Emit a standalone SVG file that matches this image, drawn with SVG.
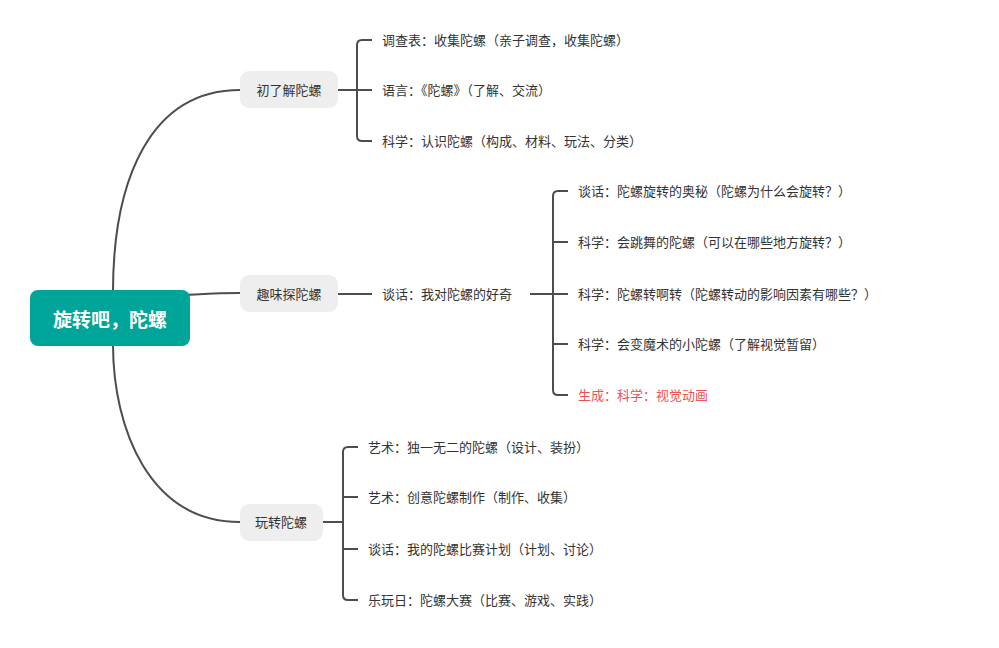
<svg xmlns="http://www.w3.org/2000/svg" width="999" height="648" viewBox="0 0 999 648">
<style>
.c{fill:none;stroke:#4d4d4d;stroke-width:2}
.t{font-family:"Liberation Sans","Noto Sans CJK SC",sans-serif;font-size:13px;fill:#333;dominant-baseline:central}
.b{fill:#eeeeee}
</style>
<rect width="999" height="648" fill="#fff"/>
<g id="connectors">
<path class="c" d="M113,292 C113,180 150,90 240,90"/>
<path class="c" d="M185,295 C205,294 220,293 240,293"/>
<path class="c" d="M113,344 C113,430 150,522 240,522"/>
<path class="c" d="M338,90 H357 M372,40 H362 Q357,40 357,45 V136 Q357,141 362,141 H372 M357,90 H372"/>
<path class="c" d="M338,294 H372"/>
<path class="c" d="M530,294 H553 M568,191 H558 Q553,191 553,196 V390 Q553,395 558,395 H568 M553,242 H568 M553,294 H568 M553,344 H568"/>
<path class="c" stroke-width="3" d="M323,522 H343"/>
<path class="c" d="M358,447 H348 Q343,447 343,452 V595 Q343,600 348,600 H358 M343,497 H358 M343,549 H358"/>
</g>
<g id="root"><rect x="30" y="290" width="160" height="56" rx="8" fill="#00a59a"/>
<text x="110" y="320" text-anchor="middle" style="font-family:'Liberation Sans','Noto Sans CJK SC',sans-serif;font-size:19px;font-weight:bold;fill:#fff;dominant-baseline:central">旋转吧，陀螺</text></g>
<g id="b1"><rect class="b" x="240" y="71" width="98" height="37" rx="9"/><text class="t" x="289" y="90" text-anchor="middle">初了解陀螺</text></g>
<g id="b2"><rect class="b" x="240" y="275" width="98" height="37" rx="9"/><text class="t" x="289" y="294" text-anchor="middle">趣味探陀螺</text></g>
<g id="b3"><rect class="b" x="240" y="504" width="83" height="37" rx="9"/><text class="t" x="281" y="522" text-anchor="middle">玩转陀螺</text></g>
<g id="l1"><text class="t" x="382" y="40">调查表：收集陀螺（亲子调查，收集陀螺）</text></g>
<g id="l2"><text class="t" x="382" y="90">语言：《陀螺》（了解、交流）</text></g>
<g id="l3"><text class="t" x="382" y="141">科学：认识陀螺（构成、材料、玩法、分类）</text></g>
<g id="m1"><text class="t" x="382" y="294">谈话：我对陀螺的好奇</text></g>
<g id="l4"><text class="t" x="578" y="191">谈话：陀螺旋转的奥秘（陀螺为什么会旋转？）</text></g>
<g id="l5"><text class="t" x="578" y="242">科学：会跳舞的陀螺（可以在哪些地方旋转？）</text></g>
<g id="l6"><text class="t" x="578" y="294">科学：陀螺转啊转（陀螺转动的影响因素有哪些？）</text></g>
<g id="l7"><text class="t" x="578" y="344">科学：会变魔术的小陀螺（了解视觉暂留）</text></g>
<g id="l8"><text class="t" x="578" y="395" style="fill:#f0504f">生成：科学：视觉动画</text></g>
<g id="l9"><text class="t" x="368" y="447">艺术：独一无二的陀螺（设计、装扮）</text></g>
<g id="l10"><text class="t" x="368" y="497">艺术：创意陀螺制作（制作、收集）</text></g>
<g id="l11"><text class="t" x="368" y="549">谈话：我的陀螺比赛计划（计划、讨论）</text></g>
<g id="l12"><text class="t" x="368" y="600">乐玩日：陀螺大赛（比赛、游戏、实践）</text></g>
</svg>
